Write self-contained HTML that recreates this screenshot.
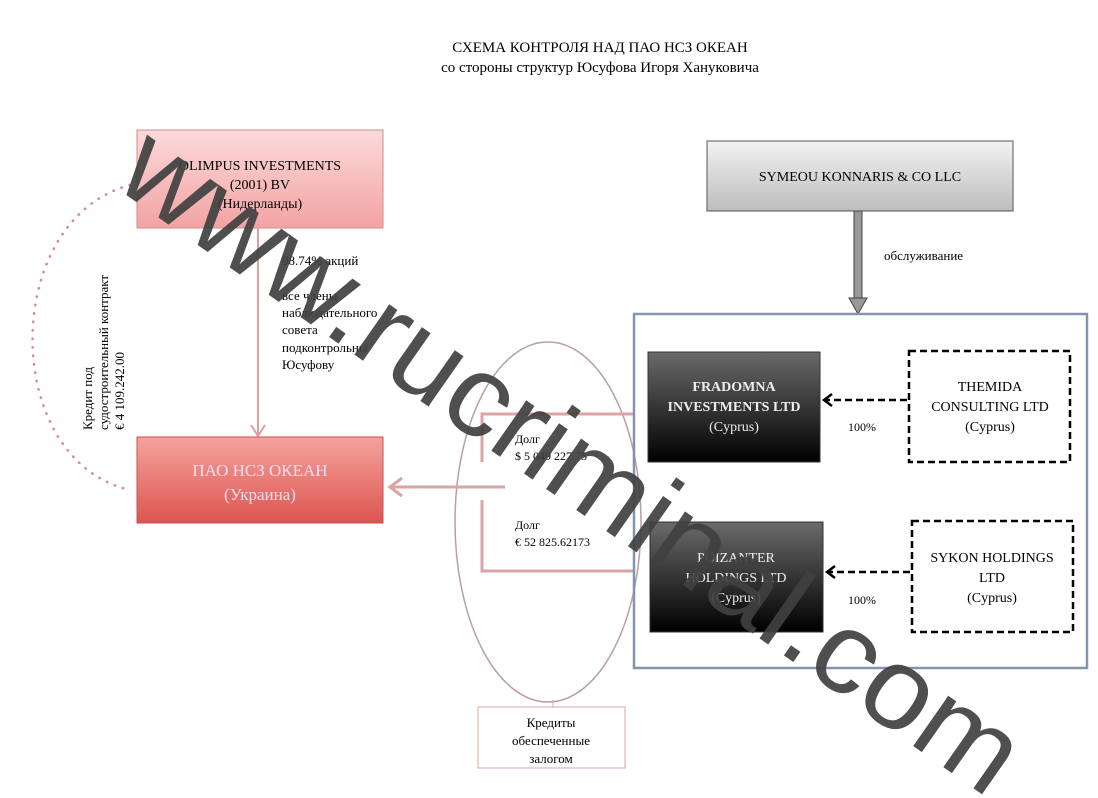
<!DOCTYPE html>
<html><head><meta charset="utf-8"><style>
html,body{margin:0;padding:0;background:#fff;overflow:hidden}
svg{display:block}
text{font-family:"Liberation Serif","DejaVu Serif",serif;}
</style></head><body>
<svg width="1098" height="798" viewBox="0 0 1098 798" xmlns="http://www.w3.org/2000/svg">
<defs>
<linearGradient id="g1" x1="0" y1="0" x2="0" y2="1"><stop offset="0" stop-color="#fbdada"/><stop offset="1" stop-color="#f3a3a3"/></linearGradient>
<linearGradient id="g2" x1="0" y1="0" x2="0" y2="1"><stop offset="0" stop-color="#f5a39d"/><stop offset="1" stop-color="#dc5550"/></linearGradient>
<linearGradient id="g3" x1="0" y1="0" x2="0" y2="1"><stop offset="0" stop-color="#f2f2f2"/><stop offset="1" stop-color="#bdbdbd"/></linearGradient>
<linearGradient id="g4" x1="0" y1="0" x2="0" y2="1"><stop offset="0" stop-color="#6a6a6a"/><stop offset="1" stop-color="#000"/></linearGradient>
</defs>
<text x="600" y="52" font-size="15" text-anchor="middle">СХЕМА КОНТРОЛЯ НАД ПАО НСЗ ОКЕАН</text>
<text x="600" y="72" font-size="15" text-anchor="middle">со стороны структур Юсуфова Игоря Хануковича</text>

<path d="M130 185 C 0 220, 0 460, 130 490" fill="none" stroke="#d98a8a" stroke-width="2.5" stroke-dasharray="0.5 8" stroke-linecap="round"/>
<text transform="translate(92,430) rotate(-90)" font-size="13">Кредит  под</text>
<text transform="translate(108,430) rotate(-90)" font-size="13">судостроительный контракт</text>
<text transform="translate(124,430) rotate(-90)" font-size="13">€ 4 109.242.00</text>

<rect x="137" y="130" width="246" height="98" fill="url(#g1)" stroke="#d48a8a"/>
<text x="260" y="170" font-size="14" text-anchor="middle">OLIMPUS INVESTMENTS</text>
<text x="260" y="189" font-size="14" text-anchor="middle">(2001) BV</text>
<text x="260" y="208" font-size="14" text-anchor="middle">(Нидерланды)</text>

<line x1="258" y1="228" x2="258" y2="435" stroke="#dda0a0" stroke-width="2"/>
<path d="M251 425 L258 436 L265 425" fill="none" stroke="#dda0a0" stroke-width="2"/>
<text x="282" y="265" font-size="13">98.74% акций</text>
<text x="282" y="300" font-size="13">все члены</text>
<text x="282" y="317" font-size="13">наблюдательного</text>
<text x="282" y="334" font-size="13">совета</text>
<text x="282" y="352" font-size="13">подконтрольны</text>
<text x="282" y="369" font-size="13">Юсуфову</text>

<rect x="137" y="437" width="246" height="86" fill="url(#g2)" stroke="#c85050"/>
<text x="260" y="476" font-size="17" fill="#fde" text-anchor="middle">ПАО НСЗ ОКЕАН</text>
<text x="260" y="500" font-size="17" fill="#fde" text-anchor="middle">(Украина)</text>

<ellipse cx="548" cy="522" rx="93" ry="180" fill="none" stroke="#b8a0a0" stroke-width="1.5"/>
<g stroke="#dca4a4" stroke-width="3" fill="none">
<path d="M635 414 L482 414 L482 462"/>
<path d="M482 500 L482 571 L635 571"/>
<line x1="392" y1="487" x2="505" y2="487"/>
<path d="M402 478 L390 487 L402 496"/>
</g>
<text x="515" y="443" font-size="12">Долг</text>
<text x="515" y="460" font-size="12">$ 5 049 227.75</text>
<text x="515" y="529" font-size="12">Долг</text>
<text x="515" y="546" font-size="12">€ 52 825.62173</text>
<line x1="553" y1="700" x2="553" y2="707" stroke="#dca4a4"/>
<rect x="478" y="707" width="147" height="61" fill="#fff" stroke="#dca4a4"/>
<text x="551" y="727" font-size="13" text-anchor="middle">Кредиты</text>
<text x="551" y="745" font-size="13" text-anchor="middle">обеспеченные</text>
<text x="551" y="763" font-size="13" text-anchor="middle">залогом</text>

<rect x="707" y="141" width="306" height="70" fill="url(#g3)" stroke="#555"/>
<text x="860" y="181" font-size="14" text-anchor="middle">SYMEOU KONNARIS &amp; CO LLC</text>
<rect x="854" y="211" width="8" height="88" fill="#999" stroke="#444"/>
<path d="M849 298 L867 298 L858 314 Z" fill="#999" stroke="#444"/>
<text x="884" y="260" font-size="13">обслуживание</text>

<rect x="634" y="314" width="453" height="354" fill="none" stroke="#8494b0" stroke-width="2.5"/>

<rect x="648" y="352" width="172" height="110" fill="url(#g4)" stroke="#333"/>
<text x="734" y="391" font-size="14" font-weight="bold" fill="#eee" text-anchor="middle">FRADOMNA</text>
<text x="734" y="411" font-size="14" font-weight="bold" fill="#eee" text-anchor="middle">INVESTMENTS LTD</text>
<text x="734" y="431" font-size="14" fill="#eee" text-anchor="middle">(Cyprus)</text>
<rect x="650" y="522" width="173" height="110" fill="url(#g4)" stroke="#333"/>
<text x="736" y="562" font-size="14" fill="#eee" text-anchor="middle">POIZANTER</text>
<text x="736" y="582" font-size="14" fill="#eee" text-anchor="middle">HOLDINGS LTD</text>
<text x="736" y="602" font-size="14" fill="#eee" text-anchor="middle">(Cyprus)</text>

<rect x="909" y="351" width="161" height="111" fill="#fff" stroke="#000" stroke-width="2.5" stroke-dasharray="7 4"/>
<text x="990" y="391" font-size="14" text-anchor="middle">THEMIDA</text>
<text x="990" y="411" font-size="14" text-anchor="middle">CONSULTING LTD</text>
<text x="990" y="431" font-size="14" text-anchor="middle">(Cyprus)</text>
<rect x="912" y="521" width="161" height="111" fill="#fff" stroke="#000" stroke-width="2.5" stroke-dasharray="7 4"/>
<text x="992" y="562" font-size="14" text-anchor="middle">SYKON HOLDINGS</text>
<text x="992" y="582" font-size="14" text-anchor="middle">LTD</text>
<text x="992" y="602" font-size="14" text-anchor="middle">(Cyprus)</text>

<g stroke="#000" stroke-width="2.5" fill="none">
<line x1="907" y1="400" x2="826" y2="400" stroke-dasharray="7 4"/>
<path d="M832 394 L824 400 L832 406"/>
<line x1="910" y1="572" x2="829" y2="572" stroke-dasharray="7 4"/>
<path d="M835 566 L827 572 L835 578"/>
</g>
<text x="848" y="431" font-size="12">100%</text>
<text x="848" y="604" font-size="12">100%</text>

<text transform="translate(112,185) rotate(35)" font-size="116" fill="#404040" fill-opacity="0.92" textLength="1070" lengthAdjust="spacingAndGlyphs" style="font-family:'Liberation Sans',sans-serif">www.rucriminal.com</text>
</svg>
</body></html>
